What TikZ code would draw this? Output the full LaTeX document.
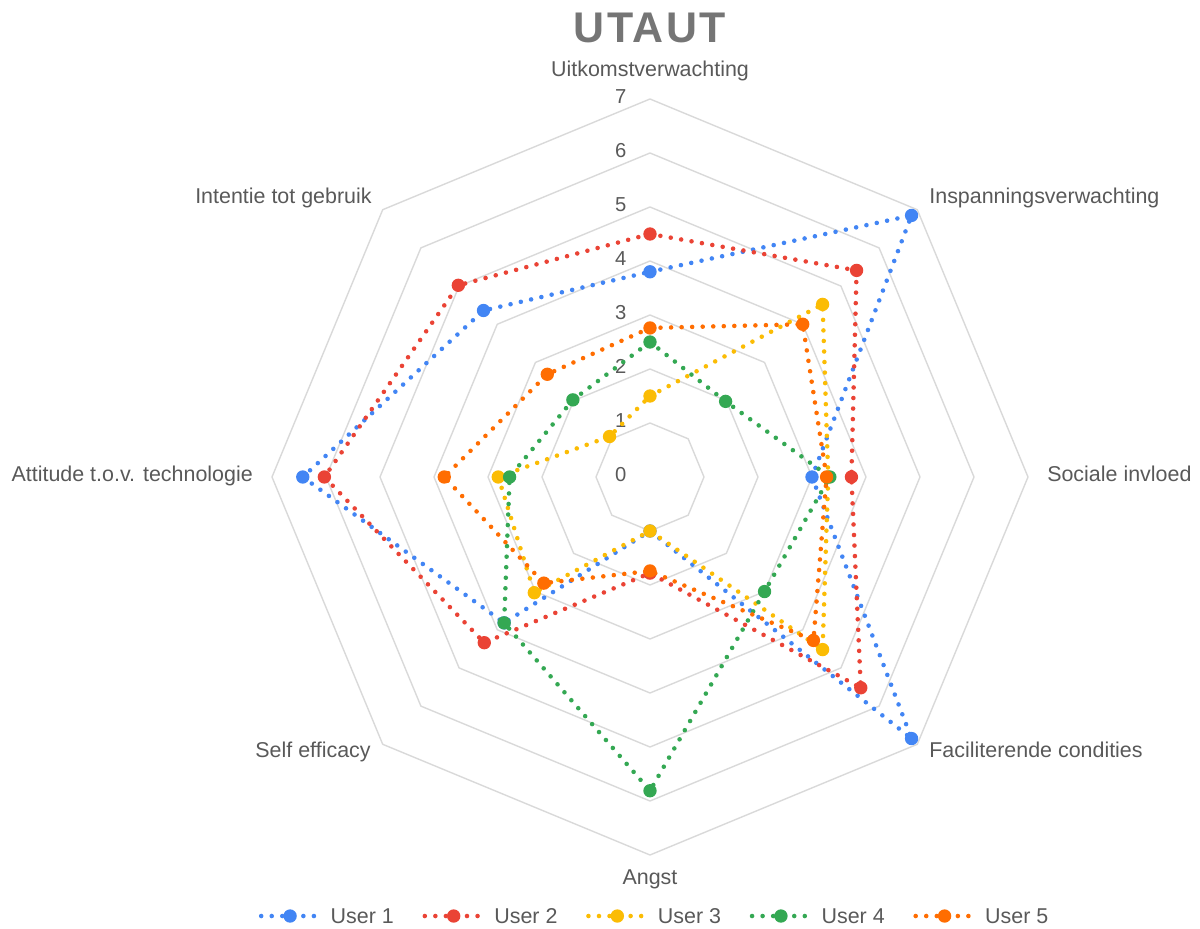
\documentclass[tikz,border=0pt]{standalone}
\usepackage{fontspec}
\setmainfont{Liberation Sans}
\newfontfamily\titlefont[LetterSpace=6]{Liberation Sans}
\usetikzlibrary{positioning}
\definecolor{ublue}{HTML}{4285F4}
\definecolor{ured}{HTML}{EA4335}
\definecolor{uyellow}{HTML}{FBBC04}
\definecolor{ugreen}{HTML}{34A853}
\definecolor{uorange}{HTML}{FF6D01}
\definecolor{gridgray}{HTML}{D9D9D9}
\definecolor{labelgray}{HTML}{595959}
\definecolor{titlegray}{HTML}{757575}
\tikzset{
	every picture/.style = {line join = round}
}

\begin{document}
\begin{tikzpicture}[
x = 1.08cm,
y = 1.08cm,
every node/.style = {
	font = \fontsize{12.2}{14}\selectfont,
	text = labelgray,
	inner sep = 0pt
},
ring/.style = {
	draw = gridgray,
	line width = 0.8pt
},
user/.style = {
	line width = 2.6pt,
	line cap = round,
	dash pattern = on 0pt off 6pt
},
dot/.style = {
	circle,
	minimum size = 7.6pt,
	inner sep = 0pt
},
num/.style = {
	font = \fontsize{11.5}{13}\selectfont
}
]

\useasboundingbox (-12.037,-8.352) rectangle (10.185,8.833);

% grid
\foreach \r in {1,...,7}
	\draw[ring] (90:\r) -- (45:\r) -- (0:\r) -- (-45:\r) -- (-90:\r) -- (-135:\r) -- (180:\r) -- (135:\r) -- cycle;
\foreach \v in {0,...,7}
	\node (num_\v) [num, anchor = mid] at (-0.54,\v) {\v};

\node (title) [text = titlegray] at (0,8.31) {\titlefont\bfseries\fontsize{24.4}{28}\selectfont UTAUT};

\node (lab_uitkomst) [anchor = mid] at (0,7.5) {Uitkomstverwachting};
\node (lab_inspanning) [anchor = mid west] at (5.167,5.148) {Inspanningsverwachting};
\node (lab_sociaal) [anchor = mid west] at (7.35,0) {Sociale invloed};
\node (lab_facil) [anchor = mid west] at (5.167,-5.11) {Faciliterende condities};
\node (lab_angst) [anchor = mid] at (0,-7.46) {Angst};
\node (lab_self) [anchor = mid east] at (-5.167,-5.11) {Self efficacy};
\node (lab_attitude) [anchor = mid east] at (-7.35,0) {Attitude t.o.v. technologie};
\node (lab_intentie) [anchor = mid east] at (-5.148,5.148) {Intentie tot gebruik};

% users
\draw[user, ublue] (90:3.80) coordinate (u1_1) -- (45:6.85) coordinate (u1_2) -- (0:3.00) coordinate (u1_3) -- (-45:6.85) coordinate (u1_4) -- (-90:1.00) coordinate (u1_5) -- (-135:3.82) coordinate (u1_6) -- (180:6.43) coordinate (u1_7) -- (135:4.36) coordinate (u1_8) -- cycle;
\foreach \p in {1,...,8}
	\node (u1_dot\p) [dot, fill = ublue] at (u1_\p) {};

\draw[user, ured] (90:4.50) coordinate (u2_1) -- (45:5.41) coordinate (u2_2) -- (0:3.73) coordinate (u2_3) -- (-45:5.52) coordinate (u2_4) -- (-90:1.78) coordinate (u2_5) -- (-135:4.34) coordinate (u2_6) -- (180:6.03) coordinate (u2_7) -- (135:5.02) coordinate (u2_8) -- cycle;
\foreach \p in {1,...,8}
	\node (u2_dot\p) [dot, fill = ured] at (u2_\p) {};

\draw[user, uyellow] (90:1.50) coordinate (u3_1) -- (45:4.52) coordinate (u3_2) -- (0:3.30) coordinate (u3_3) -- (-45:4.52) coordinate (u3_4) -- (-90:1.00) coordinate (u3_5) -- (-135:3.03) coordinate (u3_6) -- (180:2.81) coordinate (u3_7) -- (135:1.06) coordinate (u3_8) -- cycle;
\foreach \p in {1,...,8}
	\node (u3_dot\p) [dot, fill = uyellow] at (u3_\p) {};

\draw[user, ugreen] (90:2.50) coordinate (u4_1) -- (45:1.98) coordinate (u4_2) -- (0:3.33) coordinate (u4_3) -- (-45:3.00) coordinate (u4_4) -- (-90:5.81) coordinate (u4_5) -- (-135:3.82) coordinate (u4_6) -- (180:2.60) coordinate (u4_7) -- (135:2.02) coordinate (u4_8) -- cycle;
\foreach \p in {1,...,8}
	\node (u4_dot\p) [dot, fill = ugreen] at (u4_\p) {};

\draw[user, uorange] (90:2.76) coordinate (u5_1) -- (45:4.00) coordinate (u5_2) -- (0:3.27) coordinate (u5_3) -- (-45:4.28) coordinate (u5_4) -- (-90:1.74) coordinate (u5_5) -- (-135:2.78) coordinate (u5_6) -- (180:3.81) coordinate (u5_7) -- (135:2.69) coordinate (u5_8) -- cycle;
\foreach \p in {1,...,8}
	\node (u5_dot\p) [dot, fill = uorange] at (u5_\p) {};

% legend
\foreach \i/\c [count = \k from 0] in {1/ublue, 2/ured, 3/uyellow, 4/ugreen, 5/uorange} {
	\coordinate (leg_a\i) at (-7.2+3.03*\k,-8.13);
	\coordinate (leg_b\i) at (-6.13+3.03*\k,-8.13);
	\draw[user, \c] (leg_a\i) -- (leg_b\i);
	\node (leg_dot\i) [dot, fill = \c] at (-6.665+3.03*\k,-8.13) {};
	\node (leg_txt\i) [right = 6.5pt of leg_b\i] {User \i};
}

\end{tikzpicture}
\end{document}
